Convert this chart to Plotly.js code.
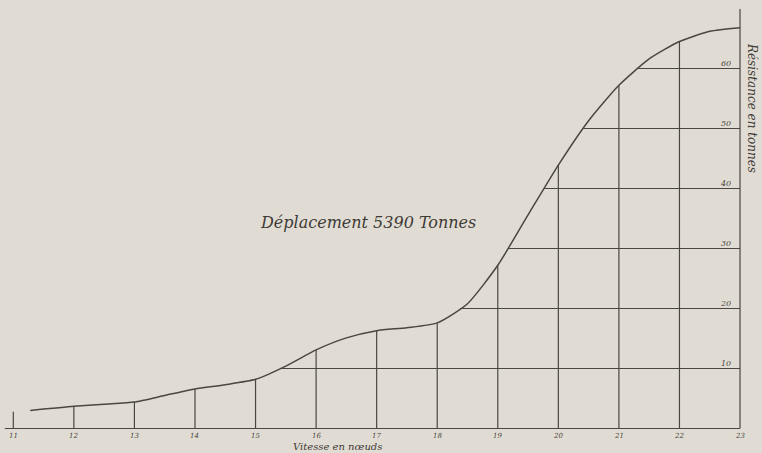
<!DOCTYPE html>
<html>
<head>
<meta charset="utf-8">
<script src="https://cdn.plot.ly/plotly-3.0.1.min.js"></script>
<style>html,body{margin:0;padding:0;background:#e1dcd3;}#chart{width:762px;height:453px;}</style>
</head>
<body>
<div id="chart"></div>
<script>
// Speeds (knots) and resistance (tonnes)
const speeds = [11.28, 12, 12.5, 13, 13.5, 14, 14.5, 15, 15.5, 16, 16.5, 17, 17.5, 18, 18.5, 19, 19.5, 20, 20.5, 21, 21.5, 22, 22.5, 23];
const resistance = [3.0, 3.7, 4.05, 4.4, 5.5, 6.6, 7.3, 8.2, 10.4, 13.1, 15.1, 16.3, 16.8, 17.6, 20.8, 27.2, 35.6, 43.9, 51.3, 57.2, 61.6, 64.5, 66.2, 66.8];
// Axis ticks
const xTickVals = [11, 12, 13, 14, 15, 16, 17, 18, 19, 20, 21, 22, 23];
const xTickText = ["11", "12", "13", "14", "15", "16", "17", "18", "19", "20", "21", "22", "23"];
const yTickVals = [10, 20, 30, 40, 50, 60];
const yTickText = ["10", "20", "30", "40", "50", "60"];
const stubHeight = 2.8;   // short mark at 11 knots
const axisTop = 69.9;     // top of the resistance axis
const baselineStart = 10.86;

const titleText = "Déplacement 5390 Tonnes";
const xTitle = "Vitesse en nœuds";
const yTitle = "Résistance en tonnes";

const ink = "#4a4641";

function valueAt(s) {
  for (let i = 0; i < speeds.length - 1; i++) {
    if (s >= speeds[i] && s <= speeds[i + 1]) {
      const t = (s - speeds[i]) / (speeds[i + 1] - speeds[i]);
      return resistance[i] + t * (resistance[i + 1] - resistance[i]);
    }
  }
  return resistance[resistance.length - 1];
}
function speedAt(v) {
  for (let i = 0; i < speeds.length - 1; i++) {
    if (v >= resistance[i] && v <= resistance[i + 1]) {
      const t = (v - resistance[i]) / (resistance[i + 1] - resistance[i]);
      return speeds[i] + t * (speeds[i + 1] - speeds[i]);
    }
  }
  return speeds[speeds.length - 1];
}

const traces = [];
// curve
traces.push({x: speeds, y: resistance, mode: "lines", line: {color: ink, width: 1.5, shape: "spline", smoothing: 0.6}, hoverinfo: "skip"});

// grid segments
const gx = [], gy = [];
gx.push(baselineStart, 23, null); gy.push(0, 0, null);           // baseline
gx.push(23, 23, null); gy.push(0, axisTop, null);                 // right axis
gx.push(xTickVals[0], xTickVals[0], null); gy.push(0, stubHeight, null); // stub at 11
xTickVals.slice(1, -1).forEach(s => { gx.push(s, s, null); gy.push(0, valueAt(s), null); });
yTickVals.forEach(v => { gx.push(speedAt(v), 23, null); gy.push(v, v, null); });
traces.push({x: gx, y: gy, mode: "lines", line: {color: ink, width: 1.2}, hoverinfo: "skip", connectgaps: false});

const annotations = [];
yTickVals.forEach((v, i) => annotations.push({x: 22.88, y: v, text: yTickText[i], showarrow: false, xanchor: "right", yanchor: "bottom", yshift: -1, font: {family: "DejaVu Serif", size: 8, color: ink, style: "italic"}}));
xTickVals.forEach((s, i) => annotations.push({x: s, y: 0, text: xTickText[i], showarrow: false, xanchor: "center", yanchor: "top", yshift: -1, font: {family: "DejaVu Serif", size: 7, color: ink, style: "italic"}}));
annotations.push({x: 16.86, y: 34.4, text: titleText, showarrow: false, font: {family: "DejaVu Serif", size: 16, color: "#3d3a36", style: "italic"}});
annotations.push({x: 16.35, y: -3.05, text: xTitle, showarrow: false, font: {family: "DejaVu Serif", size: 10, color: "#3d3a36", style: "italic"}});
annotations.push({x: 23.2, y: 53.4, text: yTitle, showarrow: false, textangle: 90, font: {family: "DejaVu Serif", size: 12, color: "#3d3a36", style: "italic"}});

const W = 762, H = 453;
const x0 = 11 - 13.3 / 60.56, x1 = x0 + W / 60.56;
const y0 = -(H - 428.5) / 6, y1 = y0 + H / 6;

Plotly.newPlot("chart", traces, {
  width: W, height: H,
  margin: {l: 0, r: 0, t: 0, b: 0},
  paper_bgcolor: "#e1dcd3", plot_bgcolor: "#e1dcd3",
  showlegend: false,
  xaxis: {range: [x0, x1], visible: false, fixedrange: true},
  yaxis: {range: [y0, y1], visible: false, fixedrange: true},
  annotations: annotations
}, {displayModeBar: false, staticPlot: true});
</script>
</body>
</html>
